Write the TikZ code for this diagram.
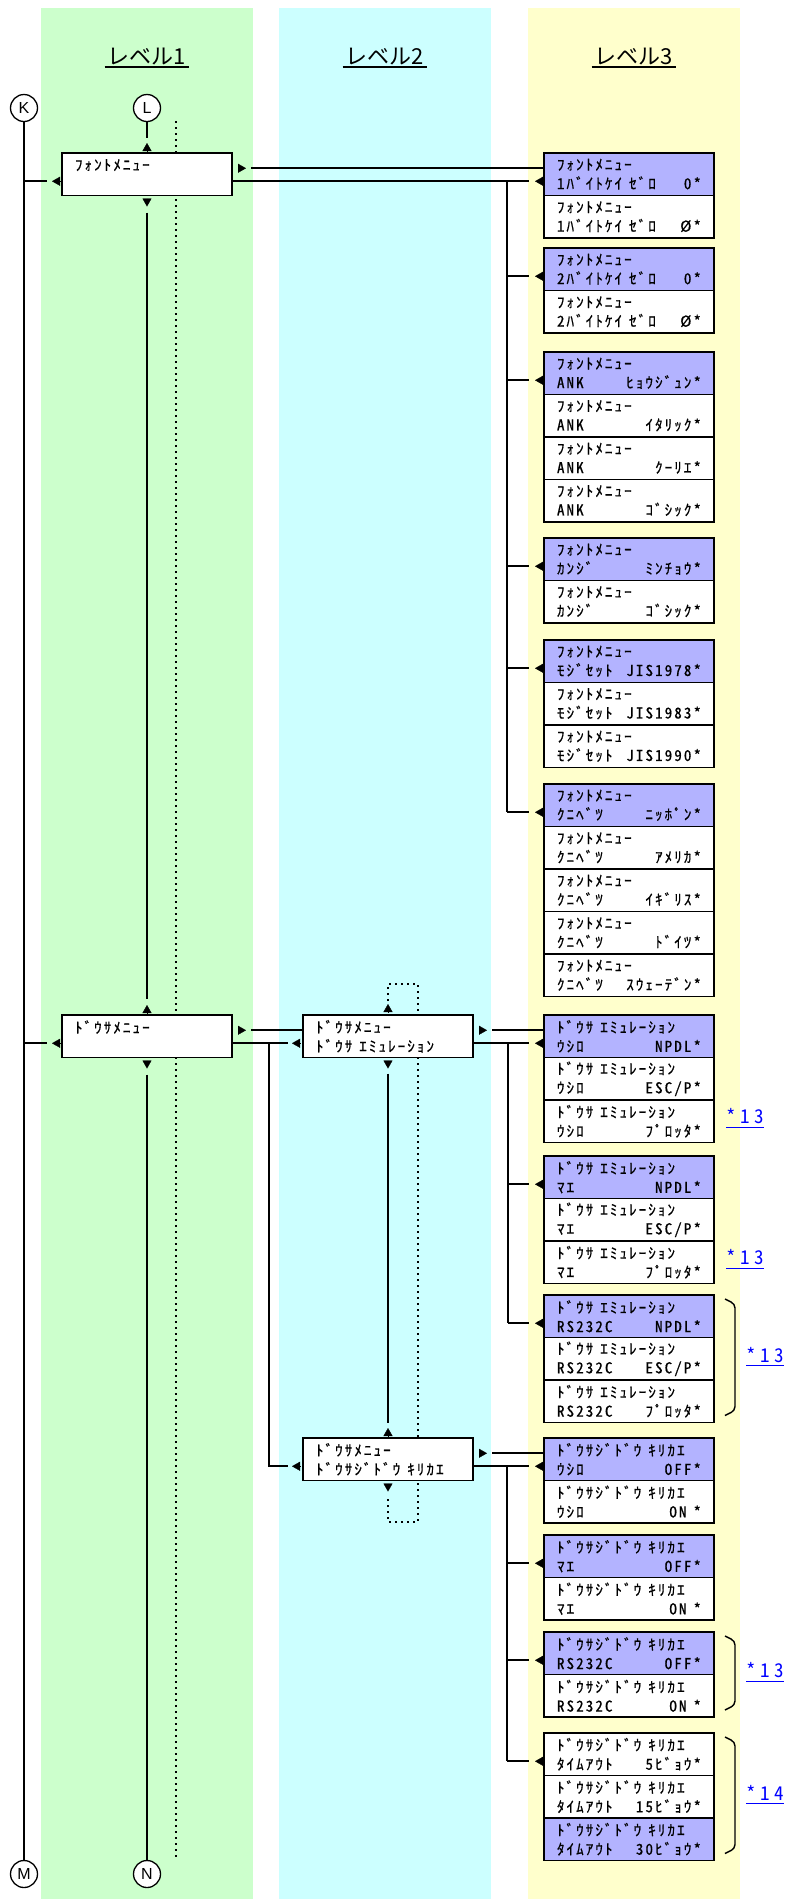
\documentclass[tikz,border=0pt]{standalone}
\usepackage{fontspec}
\setmainfont{Liberation Sans}
\newfontfamily\boxfont[CharacterWidth=Half,LetterSpace=14,FakeBold=0.7]{Noto Sans CJK JP}
\newfontfamily\hdrfont{Noto Sans CJK JP}
\newfontfamily\notefont[CharacterWidth=Half,LetterSpace=24]{Noto Sans CJK JP}
\usetikzlibrary{arrows.meta,positioning,backgrounds}
\definecolor{bggreen}{HTML}{CCFFCC}
\definecolor{bgcyan}{HTML}{CCFFFF}
\definecolor{bgyellow}{HTML}{FFFFCC}
\definecolor{selblue}{HTML}{B3B3FF}
\definecolor{linkblue}{HTML}{0000FF}

\begin{document}
\begin{tikzpicture}[x=1pt, y=-1pt,
  box/.style={draw, line width=1.6pt, fill=white, minimum width=170pt, minimum height=42.5pt, text width=144pt, inner xsep=0pt, inner ysep=0pt, outer sep=0pt, align=left, font=\boxfont\fontsize{15}{19}\selectfont},
  sel/.style={box, fill=selblue},
  con/.style={line width=1.8pt},
  ah/.style={line width=0.4pt, -{Triangle[length=8pt,width=9pt]}},
  dotln/.style={line width=2pt, dash pattern=on 2pt off 4pt},
  circ/.style={circle, draw, line width=1.3pt, fill=white, minimum size=27pt, inner sep=0pt, font=\fontsize{16}{18}\selectfont},
  hdr/.style={font=\hdrfont\fontsize{22}{26}\selectfont, inner sep=0pt},
  uline/.style={line width=1.6pt},
  note/.style={font=\notefont\fontsize{19}{21}\selectfont, text=linkblue, inner sep=0pt},
  brc/.style={line width=1.4pt, rounded corners=4pt}
]
  \useasboundingbox (0,0) rectangle (787,1899);
  % Level columns
  \begin{scope}[on background layer]
    \fill[bggreen] (41,8) rectangle (253,1899);
    \fill[bgcyan] (279,8) rectangle (491,1899);
    \fill[bgyellow] (528,8) rectangle (740,1899);
  \end{scope}
  % Column headers
  \node[hdr] (h1) at (147,57) {レベル1};
  \node[hdr] (h2) at (385,57) {レベル2};
  \node[hdr] (h3) at (634,57) {レベル3};
  \foreach \h in {h1,h2,h3}
    \draw[uline] ([xshift=-3pt,yshift=-1pt]\h.south west) -- ([xshift=3pt,yshift=-1pt]\h.south east);
  % Jump points
  \node[circ] (K) at (24,108) {K};
  \node[circ] (L) at (147,108) {L};
  \node[circ] (M) at (24,1874) {M};
  \node[circ] (N) at (147,1874) {N};

  % Level 1
  \node[box, anchor=north west] (fm) at (62,153) {ﾌｫﾝﾄﾒﾆｭｰ\\\mbox{}};
  \node[box, anchor=north west] (dm) at (62,1015) {ﾄﾞｳｻﾒﾆｭｰ\\\mbox{}};
  % Level 2
  \node[box, anchor=north west] (de) at (303,1015) {ﾄﾞｳｻﾒﾆｭｰ\\ﾄﾞｳｻ\hspace{7pt}ｴﾐｭﾚｰｼｮﾝ};
  \node[box, anchor=north west] (dj) at (303,1438) {ﾄﾞｳｻﾒﾆｭｰ\\ﾄﾞｳｻｼﾞﾄﾞｳ\hspace{7pt}ｷﾘｶｴ};

  % Level 3 - font menu
  \node[sel, anchor=north west] (f1a) at (544,153) {ﾌｫﾝﾄﾒﾆｭｰ\\1ﾊﾞｲﾄｹｲ\hspace{7pt}ｾﾞﾛ\hfill 0*};
  \node[box, below=0pt of f1a] (f1b) {ﾌｫﾝﾄﾒﾆｭｰ\\1ﾊﾞｲﾄｹｲ\hspace{7pt}ｾﾞﾛ\hfill Ø*};
  \node[sel, anchor=north west] (f2a) at (544,248) {ﾌｫﾝﾄﾒﾆｭｰ\\2ﾊﾞｲﾄｹｲ\hspace{7pt}ｾﾞﾛ\hfill 0*};
  \node[box, below=0pt of f2a] (f2b) {ﾌｫﾝﾄﾒﾆｭｰ\\2ﾊﾞｲﾄｹｲ\hspace{7pt}ｾﾞﾛ\hfill Ø*};
  \node[sel, anchor=north west] (f3a) at (544,352) {ﾌｫﾝﾄﾒﾆｭｰ\\ANK\hfill ﾋｮｳｼﾞｭﾝ*};
  \node[box, below=0pt of f3a] (f3b) {ﾌｫﾝﾄﾒﾆｭｰ\\ANK\hfill ｲﾀﾘｯｸ*};
  \node[box, below=0pt of f3b] (f3c) {ﾌｫﾝﾄﾒﾆｭｰ\\ANK\hfill ｸｰﾘｴ*};
  \node[box, below=0pt of f3c] (f3d) {ﾌｫﾝﾄﾒﾆｭｰ\\ANK\hfill ｺﾞｼｯｸ*};
  \node[sel, anchor=north west] (f4a) at (544,538) {ﾌｫﾝﾄﾒﾆｭｰ\\ｶﾝｼﾞ\hfill ﾐﾝﾁｮｳ*};
  \node[box, below=0pt of f4a] (f4b) {ﾌｫﾝﾄﾒﾆｭｰ\\ｶﾝｼﾞ\hfill ｺﾞｼｯｸ*};
  \node[sel, anchor=north west] (f5a) at (544,640) {ﾌｫﾝﾄﾒﾆｭｰ\\ﾓｼﾞｾｯﾄ\hfill JIS1978*};
  \node[box, below=0pt of f5a] (f5b) {ﾌｫﾝﾄﾒﾆｭｰ\\ﾓｼﾞｾｯﾄ\hfill JIS1983*};
  \node[box, below=0pt of f5b] (f5c) {ﾌｫﾝﾄﾒﾆｭｰ\\ﾓｼﾞｾｯﾄ\hfill JIS1990*};
  \node[sel, anchor=north west] (f6a) at (544,784) {ﾌｫﾝﾄﾒﾆｭｰ\\ｸﾆﾍﾞﾂ\hfill ﾆｯﾎﾟﾝ*};
  \node[box, below=0pt of f6a] (f6b) {ﾌｫﾝﾄﾒﾆｭｰ\\ｸﾆﾍﾞﾂ\hfill ｱﾒﾘｶ*};
  \node[box, below=0pt of f6b] (f6c) {ﾌｫﾝﾄﾒﾆｭｰ\\ｸﾆﾍﾞﾂ\hfill ｲｷﾞﾘｽ*};
  \node[box, below=0pt of f6c] (f6d) {ﾌｫﾝﾄﾒﾆｭｰ\\ｸﾆﾍﾞﾂ\hfill ﾄﾞｲﾂ*};
  \node[box, below=0pt of f6d] (f6e) {ﾌｫﾝﾄﾒﾆｭｰ\\ｸﾆﾍﾞﾂ\hfill ｽｳｪｰﾃﾞﾝ*};

  % Level 3 - emulation
  \node[sel, anchor=north west] (e1a) at (544,1015) {ﾄﾞｳｻ\hspace{7pt}ｴﾐｭﾚｰｼｮﾝ\\ｳｼﾛ\hfill NPDL*};
  \node[box, below=0pt of e1a] (e1b) {ﾄﾞｳｻ\hspace{7pt}ｴﾐｭﾚｰｼｮﾝ\\ｳｼﾛ\hfill ESC/P*};
  \node[box, below=0pt of e1b] (e1c) {ﾄﾞｳｻ\hspace{7pt}ｴﾐｭﾚｰｼｮﾝ\\ｳｼﾛ\hfill ﾌﾟﾛｯﾀ*};
  \node[sel, anchor=north west] (e2a) at (544,1156) {ﾄﾞｳｻ\hspace{7pt}ｴﾐｭﾚｰｼｮﾝ\\ﾏｴ\hfill NPDL*};
  \node[box, below=0pt of e2a] (e2b) {ﾄﾞｳｻ\hspace{7pt}ｴﾐｭﾚｰｼｮﾝ\\ﾏｴ\hfill ESC/P*};
  \node[box, below=0pt of e2b] (e2c) {ﾄﾞｳｻ\hspace{7pt}ｴﾐｭﾚｰｼｮﾝ\\ﾏｴ\hfill ﾌﾟﾛｯﾀ*};
  \node[sel, anchor=north west] (e3a) at (544,1295) {ﾄﾞｳｻ\hspace{7pt}ｴﾐｭﾚｰｼｮﾝ\\RS232C\hfill NPDL*};
  \node[box, below=0pt of e3a] (e3b) {ﾄﾞｳｻ\hspace{7pt}ｴﾐｭﾚｰｼｮﾝ\\RS232C\hfill ESC/P*};
  \node[box, below=0pt of e3b] (e3c) {ﾄﾞｳｻ\hspace{7pt}ｴﾐｭﾚｰｼｮﾝ\\RS232C\hfill ﾌﾟﾛｯﾀ*};

  % Level 3 - auto switch
  \node[sel, anchor=north west] (k1a) at (544,1438) {ﾄﾞｳｻｼﾞﾄﾞｳ\hspace{7pt}ｷﾘｶｴ\\ｳｼﾛ\hfill OFF*};
  \node[box, below=0pt of k1a] (k1b) {ﾄﾞｳｻｼﾞﾄﾞｳ\hspace{7pt}ｷﾘｶｴ\\ｳｼﾛ\hfill ON\hspace{7pt}*};
  \node[sel, anchor=north west] (k2a) at (544,1535) {ﾄﾞｳｻｼﾞﾄﾞｳ\hspace{7pt}ｷﾘｶｴ\\ﾏｴ\hfill OFF*};
  \node[box, below=0pt of k2a] (k2b) {ﾄﾞｳｻｼﾞﾄﾞｳ\hspace{7pt}ｷﾘｶｴ\\ﾏｴ\hfill ON\hspace{7pt}*};
  \node[sel, anchor=north west] (k3a) at (544,1632) {ﾄﾞｳｻｼﾞﾄﾞｳ\hspace{7pt}ｷﾘｶｴ\\RS232C\hfill OFF*};
  \node[box, below=0pt of k3a] (k3b) {ﾄﾞｳｻｼﾞﾄﾞｳ\hspace{7pt}ｷﾘｶｴ\\RS232C\hfill ON\hspace{7pt}*};
  \node[box, anchor=north west] (k4a) at (544,1733) {ﾄﾞｳｻｼﾞﾄﾞｳ\hspace{7pt}ｷﾘｶｴ\\ﾀｲﾑｱｳﾄ\hfill 5ﾋﾞｮｳ*};
  \node[box, below=0pt of k4a] (k4b) {ﾄﾞｳｻｼﾞﾄﾞｳ\hspace{7pt}ｷﾘｶｴ\\ﾀｲﾑｱｳﾄ\hfill 15ﾋﾞｮｳ*};
  \node[sel, below=0pt of k4b] (k4c) {ﾄﾞｳｻｼﾞﾄﾞｳ\hspace{7pt}ｷﾘｶｴ\\ﾀｲﾑｱｳﾄ\hfill 30ﾋﾞｮｳ*};

  % Line rows: o = out of a box, i = into a box
  \foreach \b in {fm,dm,de,dj} {
    \coordinate (\b o) at ([yshift=6pt]\b.east);
    \coordinate (\b i) at ([yshift=-7pt]\b.west);
  }
  \foreach \g in {f1,f2,f3,f4,f5,f6,e1,e2,e3,k1,k2,k3,k4} {
    \coordinate (\g i) at ([yshift=-7pt]\g a.west);
    \draw[ah] ([xshift=-1pt]\g i) -- ++(-8,0);
  }
  \coordinate (fbus) at (507,0);
  \coordinate (dbus) at (269,0);
  \coordinate (ebus) at (508,0);
  \coordinate (kbus) at (507,0);

  % Level 1 connectors
  \draw[con] (K) -- (M);
  \draw[con] (L) -- ([yshift=15pt]fm.north);
  \draw[ah] ([yshift=2pt]fm.north) -- ++(0,-8);
  \draw[ah] ([yshift=-3pt]fm.south) -- ++(0,8);
  \draw[con] ([yshift=-17pt]fm.south) -- ([yshift=16pt]dm.north);
  \draw[ah] ([xshift=-2pt]fmi) -- ++(-8,0);
  \draw[con] (K |- fmi) -- ([xshift=-15pt]fmi);
  \draw[ah] ([xshift=6pt]fmo) -- ++(8,0);
  \draw[con] ([xshift=19pt]fmo) -- (f1a.west |- fmo);
  \draw[con] (fm.east |- f1i) -- ([xshift=-15pt]f1i);
  \draw[con] (fbus |- f1i) -- (fbus |- f6i);
  \foreach \g in {f2,f3,f4,f5,f6}
    \draw[con] (fbus |- \g i) -- ([xshift=-15pt]\g i);

  \draw[ah] ([yshift=2pt]dm.north) -- ++(0,-8);
  \draw[ah] ([yshift=-3pt]dm.south) -- ++(0,8);
  \draw[con] ([yshift=-17pt]dm.south) -- (N);
  \draw[ah] ([xshift=-2pt]dmi) -- ++(-8,0);
  \draw[con] (K |- dmi) -- ([xshift=-15pt]dmi);
  \draw[ah] ([xshift=6pt]dmo) -- ++(8,0);
  \draw[con] ([xshift=19pt]dmo) -- (de.west |- dmo);
  \draw[con] (dm.east |- dei) -- ([xshift=-15pt]dei);
  \draw[con] (dbus |- dei) -- (dbus |- dji) -- ([xshift=-15pt]dji);

  % Level 2 connectors
  \draw[ah] ([xshift=-3pt]dei) -- ++(-8,0);
  \draw[ah] ([yshift=3pt]de.north) -- ++(0,-8);
  \draw[ah] ([yshift=-3pt]de.south) -- ++(0,8);
  \draw[con] ([yshift=-16pt]de.south) -- ([yshift=15pt]dj.north);
  \draw[ah] ([xshift=6pt]deo) -- ++(8,0);
  \draw[con] ([xshift=19pt]deo) -- (e1a.west |- deo);
  \draw[con] (de.east |- e1i) -- ([xshift=-15pt]e1i);
  \draw[con] (ebus |- e1i) -- (ebus |- e3i);
  \foreach \g in {e2,e3}
    \draw[con] (ebus |- \g i) -- ([xshift=-15pt]\g i);

  \draw[ah] ([xshift=-3pt]dji) -- ++(-8,0);
  \draw[ah] ([yshift=2pt]dj.north) -- ++(0,-8);
  \draw[ah] ([yshift=-3pt]dj.south) -- ++(0,8);
  \draw[ah] ([xshift=6pt]djo) -- ++(8,0);
  \draw[con] ([xshift=19pt]djo) -- (k1a.west |- djo);
  \draw[con] (dj.east |- k1i) -- ([xshift=-15pt]k1i);
  \draw[con] (kbus |- k1i) -- (kbus |- k4i);
  \foreach \g in {k2,k3,k4}
    \draw[con] (kbus |- \g i) -- ([xshift=-15pt]\g i);

  % Wrap-around (dotted)
  \coordinate (w1t) at (176,121);
  \coordinate (w1b) at (176,1857);
  \coordinate (w2t) at (418,984);
  \coordinate (w2b) at (418,1522);
  \begin{scope}[on background layer]
    \draw[dotln] (w1t) -- (w1b);
    \draw[dotln] ([yshift=14pt]de.north) |- (w2t) |- (w2b) -| ([yshift=-16pt]dj.south);
  \end{scope}

  % Brackets and notes
  \draw[brc] ([xshift=11pt,yshift=-4pt]e3a.north east) -- ++(10,5) -- ([xshift=21pt,yshift=12pt]e3c.south east) -- ++(-10,5);
  \draw[brc] ([xshift=11pt,yshift=-4pt]k3a.north east) -- ++(10,5) -- ([xshift=21pt,yshift=12pt]k3b.south east) -- ++(-10,5);
  \draw[brc] ([xshift=11pt,yshift=-4pt]k4a.north east) -- ++(10,5) -- ([xshift=21pt,yshift=12pt]k4c.south east) -- ++(-10,5);
  \node[note, anchor=west] (n1) at ([xshift=12pt,yshift=5pt]e1c.east) {*13};
  \node[note, anchor=west] (n2) at ([xshift=12pt,yshift=5pt]e2c.east) {*13};
  \node[note, anchor=west] (n3) at ([xshift=32pt,yshift=4pt]e3b.east) {*13};
  \node[note, anchor=west] (n4) at ([xshift=32pt,yshift=4pt]k3a.south east) {*13};
  \node[note, anchor=west] (n5) at ([xshift=32pt,yshift=4pt]k4b.east) {*14};
  \foreach \n in {n1,n2,n3,n4,n5}
    \draw[linkblue, line width=1.2pt] ([yshift=-3pt]\n.south west) -- ([yshift=-3pt]\n.south east);
\end{tikzpicture}
\end{document}
